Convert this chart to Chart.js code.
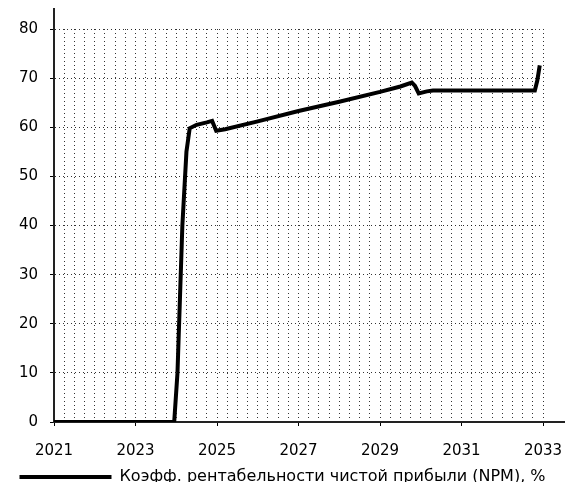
<!DOCTYPE html>
<html>
<head>
<meta charset="utf-8">
<script src="https://cdn.jsdelivr.net/npm/chart.js@4"></script>
<style>
  html, body { margin: 0; padding: 0; background: #fff; overflow: hidden; }
  #wrap { width: 565px; height: 495px; position: relative; }
</style>
</head>
<body>
<div id="wrap"><canvas id="npm"></canvas></div>
<script>
// years (fractional) and NPM values
var years = [2021, 2023.95, 2024.03, 2024.15, 2024.25, 2024.33, 2024.5, 2024.75, 2024.88, 2024.98,
             2025.2, 2026, 2027, 2028, 2029, 2029.5, 2029.78, 2029.86, 2029.95, 2030.15, 2030.3,
             2032.8, 2032.86, 2032.92];
var npm = [0, 0, 10, 40, 55, 59.8, 60.5, 61, 61.3, 59.3,
           59.6, 61.2, 63.3, 65.2, 67.2, 68.3, 69.1, 68.4, 66.9, 67.3, 67.5,
           67.5, 69.5, 72.6];
var seriesLabel = 'Коэфф. рентабельности чистой прибыли (NPM), %';
var xLabelYears = [2021, 2023, 2025, 2027, 2029, 2031, 2033];
var yTicks = [0, 10, 20, 30, 40, 50, 60, 70, 80];

var tickFont = { family: "'DejaVu Sans', sans-serif", size: 15 };
var legendFont = { family: "'DejaVu Sans', sans-serif", size: 16 };

var points = [];
for (var i = 0; i < years.length; i++) {
    points.push({ x: years[i], y: npm[i] });
}

function isLabelYear(v) {
    return xLabelYears.indexOf(Math.round(v * 100) / 100) >= 0;
}

// y axis runs a bit above 80, x axis runs on to the edge
var axisExtend = {
    id: 'axisExtend',
    afterDraw: function (chart) {
        var ctx = chart.ctx;
        var a = chart.chartArea;
        ctx.save();
        ctx.strokeStyle = '#222';
        ctx.lineWidth = 2;
        ctx.beginPath();
        ctx.moveTo(a.left, a.top + 1);
        ctx.lineTo(a.left, 8);
        ctx.moveTo(a.right - 1, a.bottom);
        ctx.lineTo(chart.width, a.bottom);
        ctx.stroke();
        ctx.restore();
    }
};

var ctx = document.getElementById('npm').getContext('2d');
var myChart = new Chart(ctx, {
    type: 'line',
    data: {
        datasets: [{
            label: seriesLabel,
            data: points,
            borderColor: '#000',
            backgroundColor: '#000',
            borderWidth: 4,
            pointRadius: 0,
            tension: 0,
            fill: false
        }]
    },
    options: {
        responsive: true,
        maintainAspectRatio: false,
        animation: false,
        layout: { padding: { left: 0, right: 0, top: 29, bottom: 0 } },
        scales: {
            x: {
                type: 'linear',
                min: 2021,
                max: 2033,
                ticks: {
                    stepSize: 0.25,
                    autoSkip: false,
                    maxRotation: 0,
                    color: '#000',
                    font: tickFont,
                    padding: 16,
                    callback: function (v) { return isLabelYear(v) ? String(Math.round(v)) : ''; }
                },
                grid: {
                    color: 'rgba(0,0,0,0.8)',
                    lineWidth: 1,
                    tickLength: 4,
                    tickBorderDash: [],
                    tickColor: function (c) { return isLabelYear(c.tick.value) ? '#000' : 'rgba(0,0,0,0)'; }
                },
                border: { color: '#222', width: 2, dash: [1, 3] },
                afterFit: function (s) {
                    s.height = 43;
                    s.paddingLeft = 0;
                    s.paddingRight = 22;
                }
            },
            y: {
                min: 0,
                max: 80,
                afterBuildTicks: function (s) { s.ticks = yTicks.map(function (v) { return { value: v }; }); },
                ticks: { color: '#000', font: tickFont, padding: 12 },
                grid: {
                    color: 'rgba(0,0,0,0.8)',
                    lineWidth: 1,
                    tickLength: 4,
                    tickBorderDash: [],
                    tickColor: '#000'
                },
                border: { color: '#222', width: 2, dash: [1, 3] },
                afterFit: function (s) { s.width = 54; }
            }
        },
        plugins: {
            legend: {
                position: 'bottom',
                labels: {
                    color: '#000',
                    font: legendFont,
                    boxWidth: 92,
                    boxHeight: 4,
                    padding: 4,
                    generateLabels: function (chart) {
                        return Chart.defaults.plugins.legend.labels.generateLabels(chart).map(function (l) {
                            l.lineWidth = 0;
                            return l;
                        });
                    }
                }
            },
            tooltip: { enabled: false }
        }
    },
    plugins: [axisExtend]
});
</script>
</body>
</html>
